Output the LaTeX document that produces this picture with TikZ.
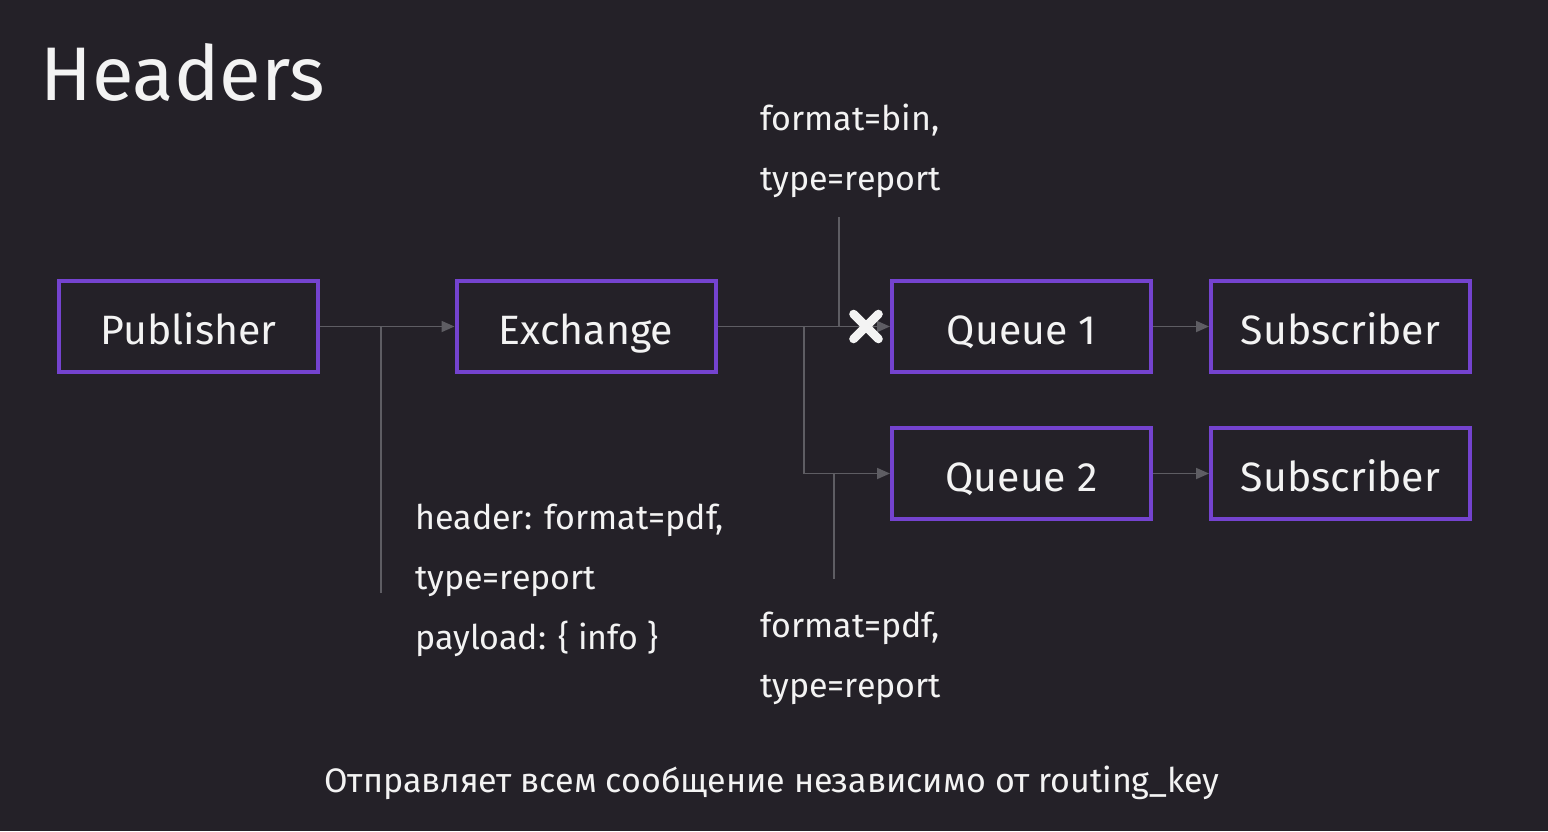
\documentclass[tikz,border=0pt]{standalone}
\usepackage{fontspec}
\setmainfont{Fira Sans}
\usetikzlibrary{arrows.meta,calc,positioning}
\definecolor{Slate}{HTML}{242128}
\definecolor{Violet}{HTML}{7443CF}
\definecolor{Wire}{HTML}{5E5D63}
\definecolor{Chalk}{HTML}{F3F3F3}

\begin{document}
\begin{tikzpicture}[x=0.5pt,y=-0.5pt,every node/.style={text=Chalk},box/.style={draw=Violet,line width=2pt,minimum width=129.5pt,minimum height=45.5pt,inner sep=0pt,text height=20pt,text depth=2.5pt,font=\fontsize{20.5}{20.5}\selectfont},arrow/.style={-{Triangle[length=6.5pt,width=5.5pt]},line width=0.9pt,draw=Wire},tap/.style={line width=0.9pt,draw=Wire},note/.style={anchor=base west,inner sep=0pt,font=\fontsize{17}{17}\selectfont}]
\fill[Slate] (0,0) rectangle (1548,831);
\useasboundingbox (0,0) rectangle (1548,831);

\node[anchor=base west,inner sep=0pt,font=\fontsize{38}{38}\selectfont] (title) at (40,100) {Headers};

\node[box] (pub) at (188.5,326.5) {Publisher};
\node[box] (exch) at (586,326.5) {Exchange};
\node[box] (q1) at (1021.5,326.5) {Queue 1};
\node[box] (sub1) at (1340.5,326.5) {Subscriber};
\node[box] (q2) at (1021.5,473.5) {Queue 2};
\node[box] (sub2) at (1340.5,473.5) {Subscriber};

\coordinate (msgtap) at (381,593); \coordinate (split) at (804,326.5);
\coordinate (bintap) at (839,217); \coordinate (pdftap) at (834,579);

\draw[arrow] (pub) -- (exch); \draw[tap] (msgtap) -- (msgtap |- pub);
\draw[arrow] (exch) -- (q1); \draw[arrow] (split) |- (q2);
\draw[tap] (bintap) -- (bintap |- q1); \draw[tap] (pdftap) -- (pdftap |- q2);
\draw[arrow] (q1) -- (sub1); \draw[arrow] (q2) -- (sub2);

\node[inner sep=0pt,minimum size=12pt] (block) at (866,326.5) {};
\draw[Chalk,line width=4.4pt,line cap=round] (block.north west) -- (block.south east) (block.north east) -- (block.south west);

\node[note] (bin1) at (760,130) {format=bin,}; \node[note] (bin2) at (760,190) {type=report};
\node[note] (msg1) at (415,529) {header: format=pdf,}; \node[note] (msg2) at (415,589) {type=report};
\node[note] (msg3) at (415,649) {payload: \{ info \}};
\node[note] (pdf1) at (760,637) {format=pdf,}; \node[note] (pdf2) at (760,697) {type=report};

\node[anchor=base,inner sep=0pt,font=\fontsize{17}{17}\selectfont] (caption) at (772,792) {Отправляет всем сообщение независимо от routing\_key};

\end{tikzpicture}
\end{document}
